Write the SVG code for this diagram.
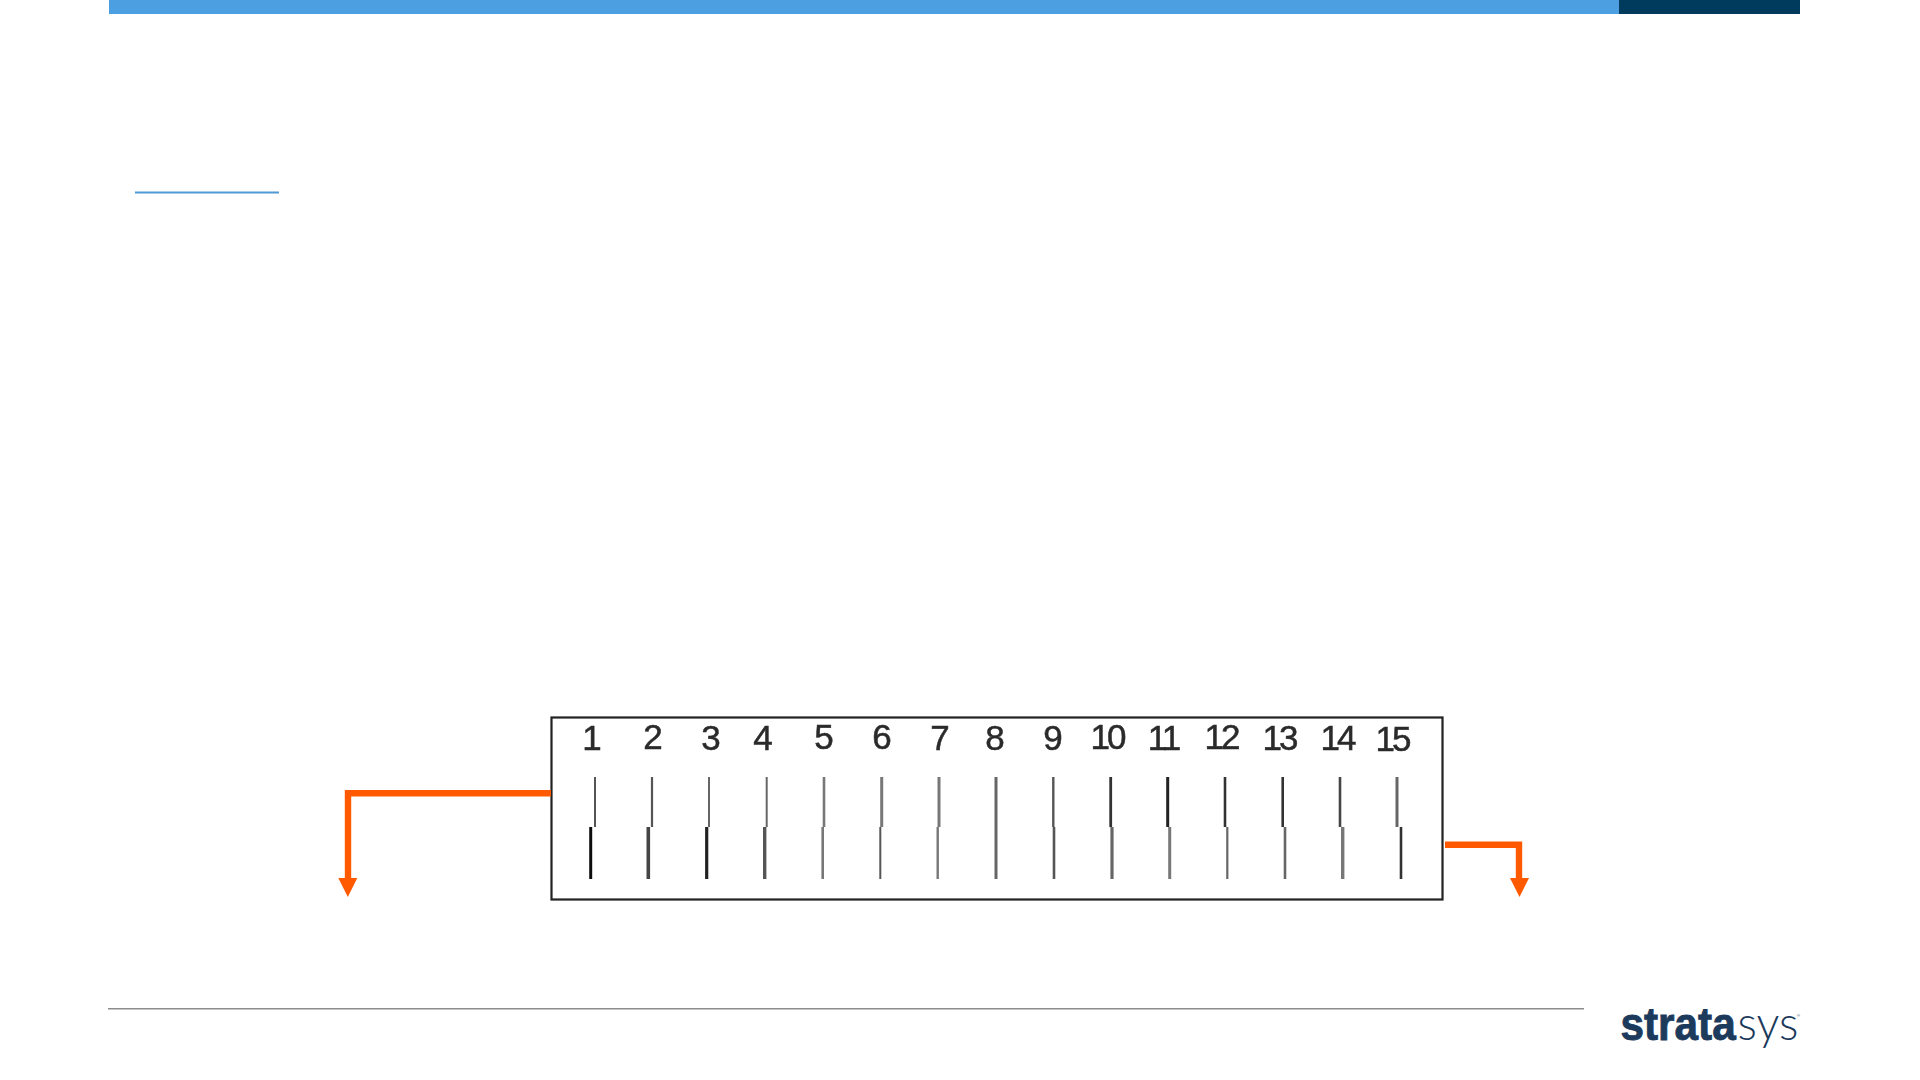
<svg xmlns="http://www.w3.org/2000/svg" width="1920" height="1080" viewBox="0 0 1920 1080">
<style>
.num{font-family:"Liberation Sans",Arial,sans-serif;font-size:35px;fill:#2b2b2b;stroke:#2b2b2b;stroke-width:.5;text-anchor:middle}
.nn{letter-spacing:-3px}
.bar{fill:none;stroke-linecap:butt}
.conn{fill:none;stroke:#ff5a00;stroke-width:6.4}
.head{fill:#ff5a00}
.logo{fill:#1b3a5c}
</style>
<defs>
<filter id="soft" x="-5%" y="-5%" width="110%" height="110%"><feGaussianBlur stdDeviation="0.55"/></filter>
</defs>
<rect width="1920" height="1080" fill="#fff"/>
<g id="header">
<rect x="109" y="0" width="1510" height="14" fill="#4c9fe0"/>
<rect x="1619" y="0" width="181" height="14" fill="#003a5d"/>
<rect x="135" y="191.5" width="144" height="2" fill="#4f9ad6"/>
</g>
<g id="footer">
<rect x="108" y="1008" width="1476" height="1.5" fill="#8c8c8c"/>
<g id="logo">
<text class="logo" transform="translate(1620.5 1040) scale(.9 1)" font-size="47" font-weight="700" font-family="'Liberation Sans',Arial,sans-serif" stroke="#1b3a5c" stroke-width="0.9">strata</text>
<text class="logo" transform="translate(1737.5 1040) scale(.95 1)" font-size="48" font-weight="300" font-family="Lato,'Open Sans',sans-serif">sys</text>
<text class="logo" x="1797" y="1017" font-size="4" font-family="'Liberation Sans',Arial,sans-serif">®</text>
</g>
</g>
<g id="chart" filter="url(#soft)">
<rect id="frame" x="551.5" y="717.5" width="891" height="182" fill="#fff" stroke="#222" stroke-width="2.2"/>
<g id="labels">
<text class="num" x="592" y="750">1</text>
<text class="num" x="653" y="749">2</text>
<text class="num" x="711" y="750">3</text>
<text class="num" x="763" y="750">4</text>
<text class="num" x="824" y="749">5</text>
<text class="num" x="882" y="749">6</text>
<text class="num" x="940" y="750">7</text>
<text class="num" x="995" y="750">8</text>
<text class="num" x="1053" y="750">9</text>
<text class="num nn" x="1107" y="749">10</text>
<text class="num nn" x="1163" y="750">11</text>
<text class="num nn" x="1221" y="749">12</text>
<text class="num nn" x="1279" y="750">13</text>
<text class="num nn" x="1337" y="750">14</text>
<text class="num nn" x="1392" y="751">15</text>
</g>
<g id="ticks" class="bar">
<path d="M595 777V827" stroke="#555" stroke-width="2"/><path d="M590.7 827V879" stroke="#111" stroke-width="3"/>
<path d="M652 777V827" stroke="#555" stroke-width="2.2"/><path d="M648.3 827V879" stroke="#444" stroke-width="3.6"/>
<path d="M709 777V827" stroke="#666" stroke-width="2"/><path d="M706.7 827V879" stroke="#222" stroke-width="3.2"/>
<path d="M766.7 777V827" stroke="#666" stroke-width="2"/><path d="M764.7 827V879" stroke="#555" stroke-width="3.4"/>
<path d="M824 777V827" stroke="#777" stroke-width="2.6"/><path d="M822.7 827V879" stroke="#777" stroke-width="2.6"/>
<path d="M881.7 777V827" stroke="#777" stroke-width="3"/><path d="M880.3 827V879" stroke="#555" stroke-width="2"/>
<path d="M939 777V827" stroke="#777" stroke-width="3"/><path d="M937.7 827V879" stroke="#777" stroke-width="2.4"/>
<path d="M996 777V879" stroke="#666" stroke-width="3"/>
<path d="M1053.3 777V827" stroke="#555" stroke-width="2.4"/><path d="M1054 827V879" stroke="#555" stroke-width="2.6"/>
<path d="M1110.7 777V827" stroke="#333" stroke-width="2.8"/><path d="M1112 827V879" stroke="#666" stroke-width="3.2"/>
<path d="M1167.7 777V827" stroke="#222" stroke-width="3"/><path d="M1169.7 827V879" stroke="#777" stroke-width="3"/>
<path d="M1225 777V827" stroke="#333" stroke-width="2.6"/><path d="M1227.3 827V879" stroke="#666" stroke-width="2.2"/>
<path d="M1282.7 777V827" stroke="#333" stroke-width="2.6"/><path d="M1285 827V879" stroke="#666" stroke-width="2.6"/>
<path d="M1340 777V827" stroke="#444" stroke-width="2.6"/><path d="M1342.7 827V879" stroke="#777" stroke-width="3.4"/>
<path d="M1397 777V827" stroke="#666" stroke-width="3"/><path d="M1401 827V879" stroke="#333" stroke-width="2.6"/>
</g>
</g>
<g id="connectors">
<path class="conn" d="M551 793.3H348V879"/>
<polygon class="head" points="338.3,878 357.3,878 347.8,897"/>
<path class="conn" d="M1445 844.7H1519V879"/>
<polygon class="head" points="1510,878 1529,878 1519.5,897"/>
</g>
</svg>
